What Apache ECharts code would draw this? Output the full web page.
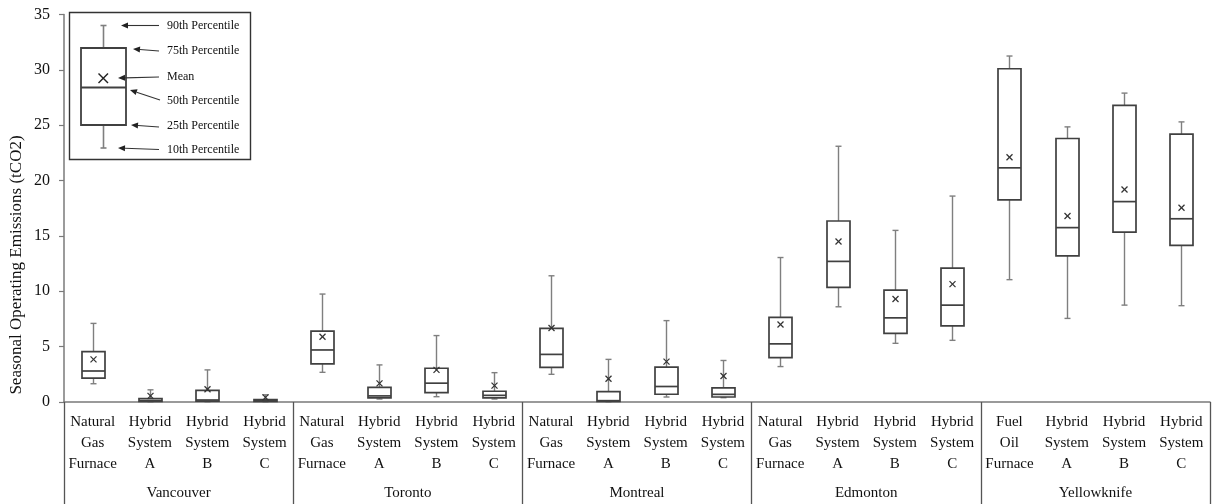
<!DOCTYPE html>
<html>
<head>
<meta charset="utf-8">
<script src="https://cdn.jsdelivr.net/npm/echarts@6/dist/echarts.min.js"></script>
<style>
html,body{margin:0;padding:0;background:#fff;}
#chart{width:1214px;height:504px;}
</style>
</head>
<body>
<div id="chart"></div>
<script>
// ---- data ----
const cities = ['Vancouver', 'Toronto', 'Montreal', 'Edmonton', 'Yellowknife'];
const systems = [
  ['Natural\nGas\nFurnace', 'Hybrid\nSystem\nA', 'Hybrid\nSystem\nB', 'Hybrid\nSystem\nC'],
  ['Natural\nGas\nFurnace', 'Hybrid\nSystem\nA', 'Hybrid\nSystem\nB', 'Hybrid\nSystem\nC'],
  ['Natural\nGas\nFurnace', 'Hybrid\nSystem\nA', 'Hybrid\nSystem\nB', 'Hybrid\nSystem\nC'],
  ['Natural\nGas\nFurnace', 'Hybrid\nSystem\nA', 'Hybrid\nSystem\nB', 'Hybrid\nSystem\nC'],
  ['Fuel\nOil\nFurnace', 'Hybrid\nSystem\nA', 'Hybrid\nSystem\nB', 'Hybrid\nSystem\nC']
];
const p90 = [7.1, 1.1, 2.9, 0.65, 9.75, 3.35, 6.0, 2.65, 11.4, 3.85, 7.35, 3.75, 13.05, 23.1, 15.5, 18.6, 31.25, 24.85, 27.9, 25.3];
const p75 = [4.55, 0.3, 1.05, 0.22, 6.4, 1.33, 3.05, 0.97, 6.65, 0.93, 3.15, 1.27, 7.65, 16.35, 10.1, 12.1, 30.1, 23.8, 26.8, 24.2];
const p50 = [2.8, 0.12, 0.18, 0.1, 4.7, 0.55, 1.7, 0.6, 4.3, 0.12, 1.4, 0.69, 5.25, 12.7, 7.6, 8.75, 21.15, 15.75, 18.1, 16.55];
const p25 = [2.15, 0.06, 0.08, 0.05, 3.45, 0.38, 0.85, 0.38, 3.13, 0.05, 0.7, 0.45, 4.0, 10.35, 6.2, 6.87, 18.25, 13.2, 15.35, 14.15];
const p10 = [1.65, 0, 0, 0, 2.68, 0.27, 0.48, 0.27, 2.5, 0, 0.45, 0.39, 3.2, 8.6, 5.3, 5.57, 11.05, 7.55, 8.75, 8.7];
const means = [3.85, 0.55, 1.15, 0.42, 5.9, 1.68, 2.9, 1.48, 6.69, 2.1, 3.65, 2.35, 7.0, 14.5, 9.3, 10.65, 22.1, 16.8, 19.2, 17.55];
const yTicks = [0, 5, 10, 15, 20, 25, 30, 35];
const legendLabels = ['90th Percentile', '75th Percentile', 'Mean', '50th Percentile', '25th Percentile', '10th Percentile'];
const yTitle = 'Seasonal Operating Emissions (tCO2)';

// ---- build ----
const categories = [];
systems.forEach(g => g.forEach(s => categories.push(s)));
const boxData = categories.map((c, i) => [i, p10[i], p25[i], p50[i], p75[i], p90[i], means[i]]);

const FONT = '"Liberation Serif", "Times New Roman", serif';
const BOX = '#404040', WHISK = '#7f7f7f', AXIS = '#7a7a7a';

function renderItem(params, api) {
  const i = api.value(0);
  const x = Math.round(api.coord([i, 0])[0]) + 0.5;
  const y = v => api.coord([i, v])[1];
  const y10 = y(api.value(1)), y25 = y(api.value(2)), y50 = y(api.value(3)),
        y75 = y(api.value(4)), y90 = y(api.value(5)), ym = y(api.value(6));
  const bw = 23, cw = 3, m = 3;
  const ws = { stroke: WHISK, lineWidth: 1.4 };
  const bs = { stroke: BOX, lineWidth: 1.7, fill: null };
  return {
    type: 'group',
    children: [
      { type: 'line', shape: { x1: x, y1: y75, x2: x, y2: y90 }, style: ws },
      { type: 'line', shape: { x1: x - cw, y1: y90, x2: x + cw, y2: y90 }, style: ws },
      { type: 'line', shape: { x1: x, y1: y25, x2: x, y2: y10 }, style: ws },
      { type: 'line', shape: { x1: x - cw, y1: y10, x2: x + cw, y2: y10 }, style: ws },
      { type: 'rect', shape: { x: x - bw / 2, y: y75, width: bw, height: Math.max(y25 - y75, 0.5) }, style: bs },
      { type: 'line', shape: { x1: x - bw / 2, y1: y50, x2: x + bw / 2, y2: y50 }, style: { stroke: BOX, lineWidth: 1.7 } },
      { type: 'line', shape: { x1: x - m, y1: ym - m, x2: x + m, y2: ym + m }, style: { stroke: '#333', lineWidth: 1.3 } },
      { type: 'line', shape: { x1: x - m, y1: ym + m, x2: x + m, y2: ym - m }, style: { stroke: '#333', lineWidth: 1.3 } }
    ]
  };
}

// legend inset (pixel layout)
function arrow(tx, ty, hx, hy) {
  const ang = Math.atan2(hy - ty, hx - tx);
  const L = 7, W = 3;
  const bx = hx - L * Math.cos(ang), by = hy - L * Math.sin(ang);
  const px = -Math.sin(ang) * W, py = Math.cos(ang) * W;
  return [
    { type: 'line', shape: { x1: tx, y1: ty, x2: bx, y2: by }, style: { stroke: '#333', lineWidth: 1.1 } },
    { type: 'polygon', shape: { points: [[hx, hy], [bx + px, by + py], [bx - px, by - py]] }, style: { fill: '#222' } }
  ];
}
const legendRows = [
  { ty: 25.5, head: [121, 25.5], tail: [159, 25.5] },
  { ty: 51, head: [133, 49], tail: [159, 51] },
  { ty: 77, head: [118, 78], tail: [159, 77] },
  { ty: 101, head: [130, 90], tail: [160, 100] },
  { ty: 126, head: [131, 125], tail: [159, 127] },
  { ty: 150, head: [118, 148], tail: [159, 149.5] }
];
const legendEls = [
  { type: 'rect', shape: { x: 69.5, y: 12.5, width: 181, height: 147 }, style: { stroke: '#333', lineWidth: 1.4, fill: '#fff' }, z: 10 },
  { type: 'line', shape: { x1: 103.5, y1: 25.5, x2: 103.5, y2: 48 }, style: { stroke: WHISK, lineWidth: 1.6 }, z: 11 },
  { type: 'line', shape: { x1: 100.5, y1: 25.5, x2: 106.5, y2: 25.5 }, style: { stroke: WHISK, lineWidth: 1.6 }, z: 11 },
  { type: 'line', shape: { x1: 103.5, y1: 125, x2: 103.5, y2: 148 }, style: { stroke: WHISK, lineWidth: 1.6 }, z: 11 },
  { type: 'line', shape: { x1: 100.5, y1: 148, x2: 106.5, y2: 148 }, style: { stroke: WHISK, lineWidth: 1.6 }, z: 11 },
  { type: 'rect', shape: { x: 81, y: 48, width: 45, height: 77 }, style: { stroke: BOX, lineWidth: 1.8, fill: null }, z: 11 },
  { type: 'line', shape: { x1: 81, y1: 87.5, x2: 126, y2: 87.5 }, style: { stroke: BOX, lineWidth: 1.8 }, z: 11 },
  { type: 'line', shape: { x1: 98.5, y1: 73.5, x2: 108, y2: 83 }, style: { stroke: '#222', lineWidth: 1.4 }, z: 11 },
  { type: 'line', shape: { x1: 98.5, y1: 83, x2: 108, y2: 73.5 }, style: { stroke: '#222', lineWidth: 1.4 }, z: 11 }
];
legendRows.forEach((r, k) => {
  arrow(r.tail[0], r.tail[1], r.head[0], r.head[1]).forEach(e => { e.z = 11; legendEls.push(e); });
  legendEls.push({ type: 'text', z: 11, x: 167, y: r.ty,
    style: { text: legendLabels[k], fontSize: 12, fontFamily: FONT, fill: '#111', verticalAlign: 'middle', align: 'left' } });
});
legendEls.push({ type: 'text', x: 17, y: 265, rotation: Math.PI / 2,
  style: { text: yTitle, fontSize: 17, fontFamily: FONT, fill: '#111', align: 'center', verticalAlign: 'middle' } });

const chart = echarts.init(document.getElementById('chart'), null, { renderer: 'canvas' });
chart.setOption({
  animation: false,
  backgroundColor: '#fff',
  grid: { left: 64, right: 4, top: 14.5, bottom: 102, containLabel: false },
  xAxis: [
    {
      type: 'category', data: categories, position: 'bottom',
      axisLine: { show: true, lineStyle: { color: AXIS, width: 1.5 } },
      axisTick: { show: false },
      axisLabel: { interval: 0, fontSize: 15, lineHeight: 21, fontFamily: FONT, color: '#111', margin: 10, align: 'center' },
      splitLine: { show: false }
    },
    {
      type: 'category', data: cities, position: 'bottom', offset: 0,
      axisLine: { show: false },
      axisTick: { show: true, length: 102, interval: 0, lineStyle: { color: '#555', width: 1.3 } },
      axisLabel: { interval: 0, fontSize: 15, fontFamily: FONT, color: '#111', margin: 84 },
      splitLine: { show: false }
    }
  ],
  yAxis: {
    type: 'value', min: 0, max: 35, interval: 5,
    axisLine: { show: true, lineStyle: { color: AXIS, width: 1.5 } },
    axisTick: { show: true, length: 5, lineStyle: { color: AXIS, width: 1.2 } },
    axisLabel: { fontSize: 16, fontFamily: FONT, color: '#111', margin: 14,
      formatter: v => (yTicks.indexOf(v) >= 0 ? String(v) : '') },
    splitLine: { show: false }
  },
  series: [{
    type: 'custom', xAxisIndex: 0, yAxisIndex: 0,
    renderItem: renderItem,
    encode: { x: 0, y: [1, 2, 3, 4, 5, 6] },
    data: boxData,
    clip: false,
    z: 5
  }],
  graphic: legendEls
});
</script>
</body>
</html>
